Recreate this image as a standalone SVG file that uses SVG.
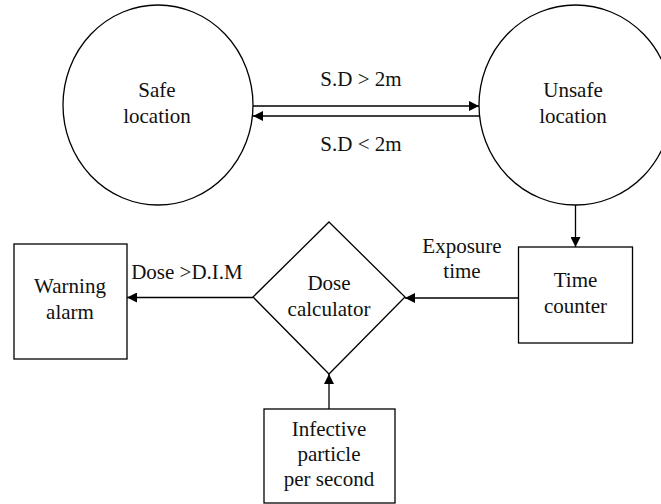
<svg xmlns="http://www.w3.org/2000/svg" width="661" height="504" viewBox="0 0 661 504">
<style>
.s{fill:none;stroke:#000;stroke-width:1.3}
.t{font-family:"Liberation Serif","Times New Roman",serif;font-size:21px;fill:#111;text-anchor:middle}
.c{stroke:#000;stroke-width:1.3;fill:none;marker-end:url(#ah)}
</style>
<defs>
<marker id="ah" viewBox="0 0 10 10" refX="10" refY="5" markerWidth="10" markerHeight="10" markerUnits="userSpaceOnUse" orient="auto">
<path d="M0,0 L10,5 L0,10 Z" fill="#000"/>
</marker>
</defs>
<rect width="661" height="504" fill="#fff"/>
<g id="safe">
<ellipse class="s" cx="158" cy="105" rx="95" ry="100"/>
<text class="t" x="157" y="97">Safe</text>
<text class="t" x="157" y="123">location</text>
</g>
<g id="unsafe">
<ellipse class="s" cx="575.5" cy="105" rx="96.5" ry="100"/>
<text class="t" x="573" y="97">Unsafe</text>
<text class="t" x="573" y="123">location</text>
</g>
<g id="time">
<rect class="s" x="518.5" y="247" width="114" height="96"/>
<text class="t" x="575.5" y="287">Time</text>
<text class="t" x="575.5" y="313">counter</text>
</g>
<g id="dose">
<path class="s" d="M329,222 L405,297 L329,374 L253,297 Z"/>
<text class="t" x="329" y="290">Dose</text>
<text class="t" x="329" y="316">calculator</text>
</g>
<g id="warning">
<rect class="s" x="14" y="244" width="113" height="115"/>
<text class="t" x="70" y="293">Warning</text>
<text class="t" x="70" y="319">alarm</text>
</g>
<g id="infective">
<rect class="s" x="264" y="409" width="131" height="94"/>
<text class="t" x="329" y="436">Infective</text>
<text class="t" x="329" y="461">particle</text>
<text class="t" x="329" y="486">per second</text>
</g>
<g id="connectors">
<line class="c" x1="253" y1="106" x2="479" y2="106"/>
<line class="c" x1="479" y1="116" x2="253" y2="116"/>
<line class="c" x1="575.5" y1="205" x2="575.5" y2="247"/>
<line class="c" x1="518.5" y1="298" x2="405" y2="298"/>
<line class="c" x1="253" y1="297.5" x2="127" y2="297.5"/>
<line class="c" x1="329" y1="409" x2="329" y2="374"/>
<text class="t" x="361" y="86">S.D &gt; 2m</text>
<text class="t" x="361" y="151">S.D &lt; 2m</text>
<text class="t" x="462" y="253">Exposure</text>
<text class="t" x="462" y="278">time</text>
<text class="t" x="187" y="279">Dose &gt;D.I.M</text>
</g>
</svg>
